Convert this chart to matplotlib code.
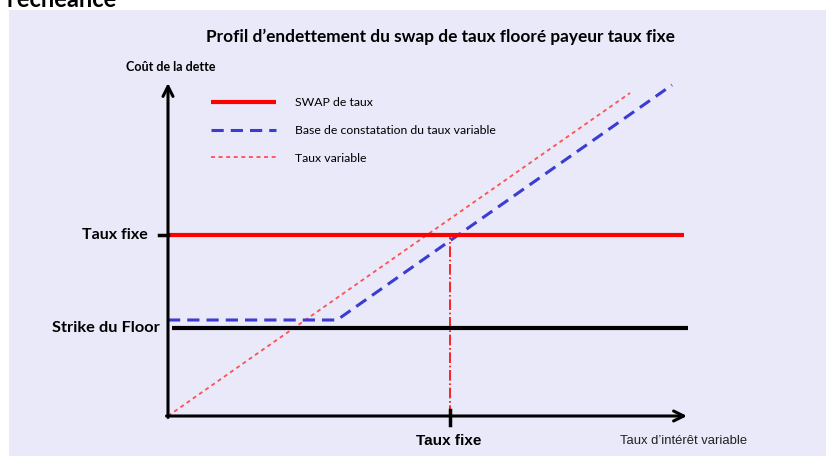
import matplotlib
matplotlib.use('Agg')
import matplotlib.pyplot as plt
from matplotlib.patches import Rectangle
from matplotlib.transforms import Affine2D

# data (arbitrary rate units, origin at the corner of the axes)
taux_fixe = 3.62          # fixed rate level (y) and strike position on x
taux_fixe_x = 5.64
strike_floor = 1.76
floor_base = 1.92

swap_x = [0, 10.32]
swap_y = [taux_fixe, taux_fixe]
strike_x = [0.08, 10.40]
strike_y = [strike_floor, strike_floor]
base_x = [0, 3.38, 10.08]
base_y = [floor_base, floor_base, 6.62]
var_x = [0, 9.24]
var_y = [0, 6.46]
x_axis_end = 10.38
y_axis_end = 6.66

labels = ['SWAP de taux', 'Base de constatation du taux variable', 'Taux variable']

W, H = 826, 457
fig = plt.figure(figsize=(W / 100, H / 100), dpi=100)
fig.patch.set_facecolor('white')
ax = fig.add_axes([0, 0, 1, 1])
ax.axis('off')
ox, oy, unit = 168, 416, 50.0
ax.set_xlim(-ox / unit, (W - ox) / unit)
ax.set_ylim(-(H - oy) / unit, oy / unit)

# pixel transform (top-left origin) for text placement
px = Affine2D().scale(1 / W, -1 / H).translate(0, 1) + fig.transFigure

ax.add_patch(Rectangle((9, 10), W - 9, H - 11, transform=px, facecolor='#E9E9F9',
                       edgecolor='none', zorder=0))

title_font = 'Lato'
fig.text(117, 7, "l'échéance", transform=px, ha='right', va='baseline',
         fontsize=17, fontweight='bold', family=title_font)
fig.text(440, 37, "Profil d’endettement du swap de taux flooré payeur taux fixe", transform=px,
         ha='center', va='center', fontsize=12.4, fontweight='bold', family=title_font)
fig.text(171, 67, "Coût de la dette", transform=px, ha='center', va='center',
         fontsize=9, fontweight='bold', family=title_font)
fig.text(148, 235, "Taux fixe", transform=px, ha='right', va='center',
         fontsize=11.5, fontweight='bold', family=title_font)
fig.text(160, 328, "Strike du Floor", transform=px, ha='right', va='center',
         fontsize=11.8, fontweight='bold', family=title_font)
fig.text(449, 441, "Taux fixe", transform=px, ha='center', va='center',
         fontsize=11, fontweight='bold', family='Liberation Sans')
fig.text(684, 441, "Taux d’intérêt variable", transform=px, ha='center', va='center',
         fontsize=9.4, family='Liberation Sans', color='#222222')

# axes with arrows
ax.annotate('', xy=(x_axis_end, 0), xytext=(-0.03, 0),
            arrowprops=dict(arrowstyle='->', lw=2.2, color='black', mutation_scale=18,
                            shrinkA=0, shrinkB=0), zorder=5)
ax.annotate('', xy=(0, y_axis_end), xytext=(0, -0.03),
            arrowprops=dict(arrowstyle='->', lw=2.2, color='black', mutation_scale=18,
                            shrinkA=0, shrinkB=0), zorder=5)
ax.plot([taux_fixe_x, taux_fixe_x], [-0.18, 0.12], color='black', lw=2.5, zorder=5)
ax.plot([-0.18, 0], [taux_fixe, taux_fixe], color='black', lw=2.5, zorder=5)

# series
l1, = ax.plot(swap_x, swap_y, color='#FF0000', lw=3.0, solid_capstyle='butt', zorder=4)
ax.plot(strike_x, strike_y, color='black', lw=3.0, solid_capstyle='butt', zorder=3)
l2, = ax.plot(base_x, base_y, color='#3C3CD2', lw=2.2, dashes=(4, 2.3), zorder=3)
l3, = ax.plot(var_x, var_y, color='#FF5050', lw=1.3, dashes=(2.2, 2.0), zorder=2)
ax.plot([taux_fixe_x, taux_fixe_x], [0, taux_fixe], color='#FF0000', lw=1.2,
        linestyle='-.', zorder=2)

leg = ax.legend([l1, l2, l3], labels, loc='upper left', frameon=False,
                bbox_to_anchor=(200 / W, 1 - 86 / H), bbox_transform=fig.transFigure,
                prop={'family': title_font, 'size': 8.8}, handlelength=5.3,
                handletextpad=1.6, labelspacing=1.38)

fig.savefig('out.png', dpi=100, facecolor=fig.get_facecolor())
